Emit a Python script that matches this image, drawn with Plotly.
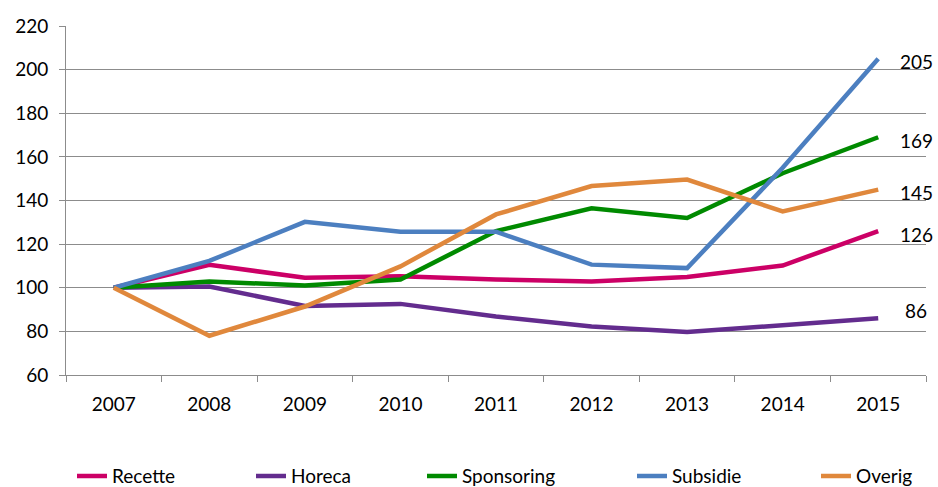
import plotly.graph_objects as go

# 指数 2007 = 100
years = ["2007", "2008", "2009", "2010", "2011", "2012", "2013", "2014", "2015"]
recette = [100, 110.5, 104.6, 105.3, 103.8, 102.9, 104.9, 110.2, 126]
horeca = [100, 100.6, 91.6, 92.6, 86.8, 82.2, 79.7, 82.6, 86]
sponsoring = [100, 102.9, 101.0, 103.8, 126.0, 136.4, 132.0, 152.5, 169]
subsidie = [100, 112.3, 130.2, 125.7, 125.7, 110.6, 109.0, 155.0, 205]
overig = [100, 78.0, 91.4, 109.8, 133.6, 146.6, 149.6, 135.0, 145]

series = [
    ("Recette", recette, "#CC0066"),
    ("Horeca", horeca, "#632C8E"),
    ("Sponsoring", sponsoring, "#008A00"),
    ("Subsidie", subsidie, "#4C7FC0"),
    ("Overig", overig, "#E0883C"),
]

FONT = "Lato, Arial, sans-serif"
W, H = 938, 487
L, R, T, B = 66, 12, 26, 112
plot_w = W - L - R
# legend left edges (pixels)
legend_px = [72, 251, 422, 632, 816]

fig = go.Figure()
for i, (name, vals, color) in enumerate(series):
    lg = "legend" if i == 0 else f"legend{i + 1}"
    fig.add_trace(go.Scatter(
        x=years, y=vals, name=name, mode="lines",
        line=dict(color=color, width=4.5),
        legend=lg,
    ))

layout_legends = {}
for i, px in enumerate(legend_px):
    key = "legend" if i == 0 else f"legend{i + 1}"
    layout_legends[key] = dict(
        x=(px - L) / plot_w, y=-0.29, xanchor="left", yanchor="middle",
        orientation="h", bgcolor="rgba(0,0,0,0)", borderwidth=0,
        font=dict(family=FONT, size=19, color="#000000"),
        itemwidth=30,
    )

# 末端数据标签 (category index of last year)
last = len(years) - 1
for name, vals, color in series:
    ys = 8 if vals[-1] < 100 else -3
    fig.add_annotation(
        x=last, y=vals[-1], text=str(round(vals[-1])),
        showarrow=False, xanchor="center", yanchor="middle",
        xshift=38, yshift=ys,
        font=dict(family=FONT, size=19, color="#000000"),
    )

fig.update_layout(
    width=W, height=H,
    margin=dict(l=L, r=R, t=T, b=B, autoexpand=False),
    plot_bgcolor="white", paper_bgcolor="white",
    showlegend=True,
    **layout_legends,
)
fig.update_yaxes(
    range=[60, 220], dtick=20, showgrid=True, gridcolor="#8C8C8C", gridwidth=1,
    showline=True, linecolor="#8C8C8C", linewidth=1,
    ticks="outside", ticklen=6, tickcolor="#8C8C8C", ticklabelstandoff=7,
    tickfont=dict(family=FONT, size=19, color="#000000"),
    zeroline=False, automargin=False,
)
fig.update_xaxes(
    type="category", range=[-0.5, last + 0.5],
    showline=True, linecolor="#8C8C8C", linewidth=1,
    ticks="outside", ticklen=6, tickcolor="#8C8C8C", tickson="boundaries",
    showgrid=False, ticklabelstandoff=12, tickangle=0, automargin=False,
    tickfont=dict(family=FONT, size=19, color="#000000"),
)

# body 默认 8px 边距去掉, 不显示 modebar
fig.write_html(
    "out.html",
    config={"displayModeBar": False},
    post_script="document.body.style.margin = '0';",
)
